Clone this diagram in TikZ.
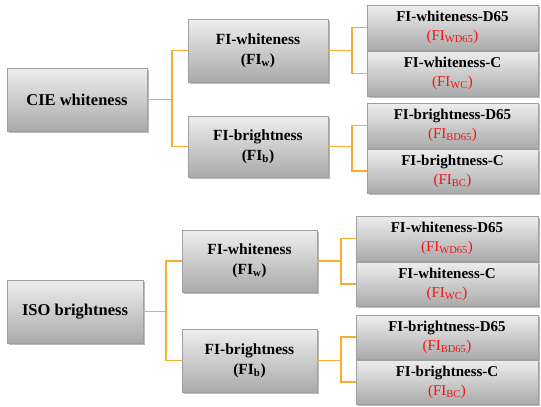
\documentclass[tikz,border=0pt]{standalone}
\usepackage{fontspec}
\setmainfont{Liberation Serif}
\usetikzlibrary{shadows}
\definecolor{boxtop}{RGB}{238,238,238}
\definecolor{boxbot}{RGB}{170,170,170}
\definecolor{boxline}{RGB}{160,160,160}
\definecolor{conn}{RGB}{248,172,48}
\definecolor{subred}{RGB}{240,20,20}
\tikzset{
  box/.style={rectangle, top color=boxtop, bottom color=boxbot, draw=boxline, line width=0.4pt,
    drop shadow={shadow xshift=1.6pt, shadow yshift=-1.8pt, fill=black!45, opacity=0.6},
    align=center, inner sep=0pt, font=\bfseries},
  mainbox/.style={box, font=\fontsize{16.5}{20}\selectfont\bfseries},
  midbox/.style={box, font=\fontsize{15.5}{20}\selectfont\bfseries},
  leafbox/.style={box, font=\fontsize{15}{19}\selectfont\bfseries},
  link/.style={draw=conn, line width=1.7pt},
}
\newcommand{\redsub}[1]{{\color{subred}\mdseries(FI\textsubscript{#1})}}
\begin{document}
\begin{tikzpicture}[x=1pt,y=-1pt]
\useasboundingbox (0,0) rectangle (541,407);
% top tree
\node[mainbox, minimum width=140pt, minimum height=63pt] (cie) at (77,99.5) {CIE whiteness};
\node[midbox, minimum width=140pt, minimum height=63pt] (fiw1) at (258,50.5) {FI-whiteness\\(FI\textsubscript{w})};
\node[midbox, minimum width=140pt, minimum height=61pt] (fib1) at (258,146.5) {FI-brightness\\(FI\textsubscript{b})};
\node[leafbox, minimum width=171pt, minimum height=45pt] (r1) at (452.5,27.5) {FI-whiteness-D65\\\redsub{WD65}};
\node[leafbox, minimum width=171pt, minimum height=45pt] (r2) at (452.5,73.5) {FI-whiteness-C\\\redsub{WC}};
\node[leafbox, minimum width=171pt, minimum height=45pt] (r3) at (452.5,125.5) {FI-brightness-D65\\\redsub{BD65}};
\node[leafbox, minimum width=171pt, minimum height=44pt] (r4) at (452.5,171) {FI-brightness-C\\\redsub{BC}};
% bottom tree
\node[mainbox, minimum width=136pt, minimum height=63pt] (iso) at (75,311.5) {ISO brightness};
\node[midbox, minimum width=135pt, minimum height=62pt] (fiw2) at (249.5,261) {FI-whiteness\\(FI\textsubscript{w})};
\node[midbox, minimum width=135pt, minimum height=63pt] (fib2) at (249.5,360.5) {FI-brightness\\(FI\textsubscript{b})};
\node[leafbox, minimum width=182pt, minimum height=45pt] (r5) at (447,238.5) {FI-whiteness-D65\\\redsub{WD65}};
\node[leafbox, minimum width=182pt, minimum height=44pt] (r6) at (447,284) {FI-whiteness-C\\\redsub{WC}};
\node[leafbox, minimum width=182pt, minimum height=44pt] (r7) at (447,337) {FI-brightness-D65\\\redsub{BD65}};
\node[leafbox, minimum width=182pt, minimum height=44pt] (r8) at (447,382) {FI-brightness-C\\\redsub{BC}};
% connectors
\draw[link] (cie.east) -- ++(25,0) coordinate (j1) |- (fiw1.west);
\draw[link] (j1) |- (fib1.west);
\draw[link] (fiw1.east) -- ++(24,0) coordinate (j2) |- (r1.west);
\draw[link] (j2) |- (r2.west);
\draw[link] (fib1.east) -- ++(24,0) coordinate (j3) |- (r3.west);
\draw[link] (j3) |- (r4.west);
\draw[link] (iso.east) -- ++(23,0) coordinate (j4) |- (fiw2.west);
\draw[link] (j4) |- (fib2.west);
\draw[link] (fiw2.east) -- ++(24,0) coordinate (j5) |- (r5.west);
\draw[link] (j5) |- (r6.west);
\draw[link] (fib2.east) -- ++(24,0) coordinate (j6) |- (r7.west);
\draw[link] (j6) |- (r8.west);
\end{tikzpicture}
\end{document}
